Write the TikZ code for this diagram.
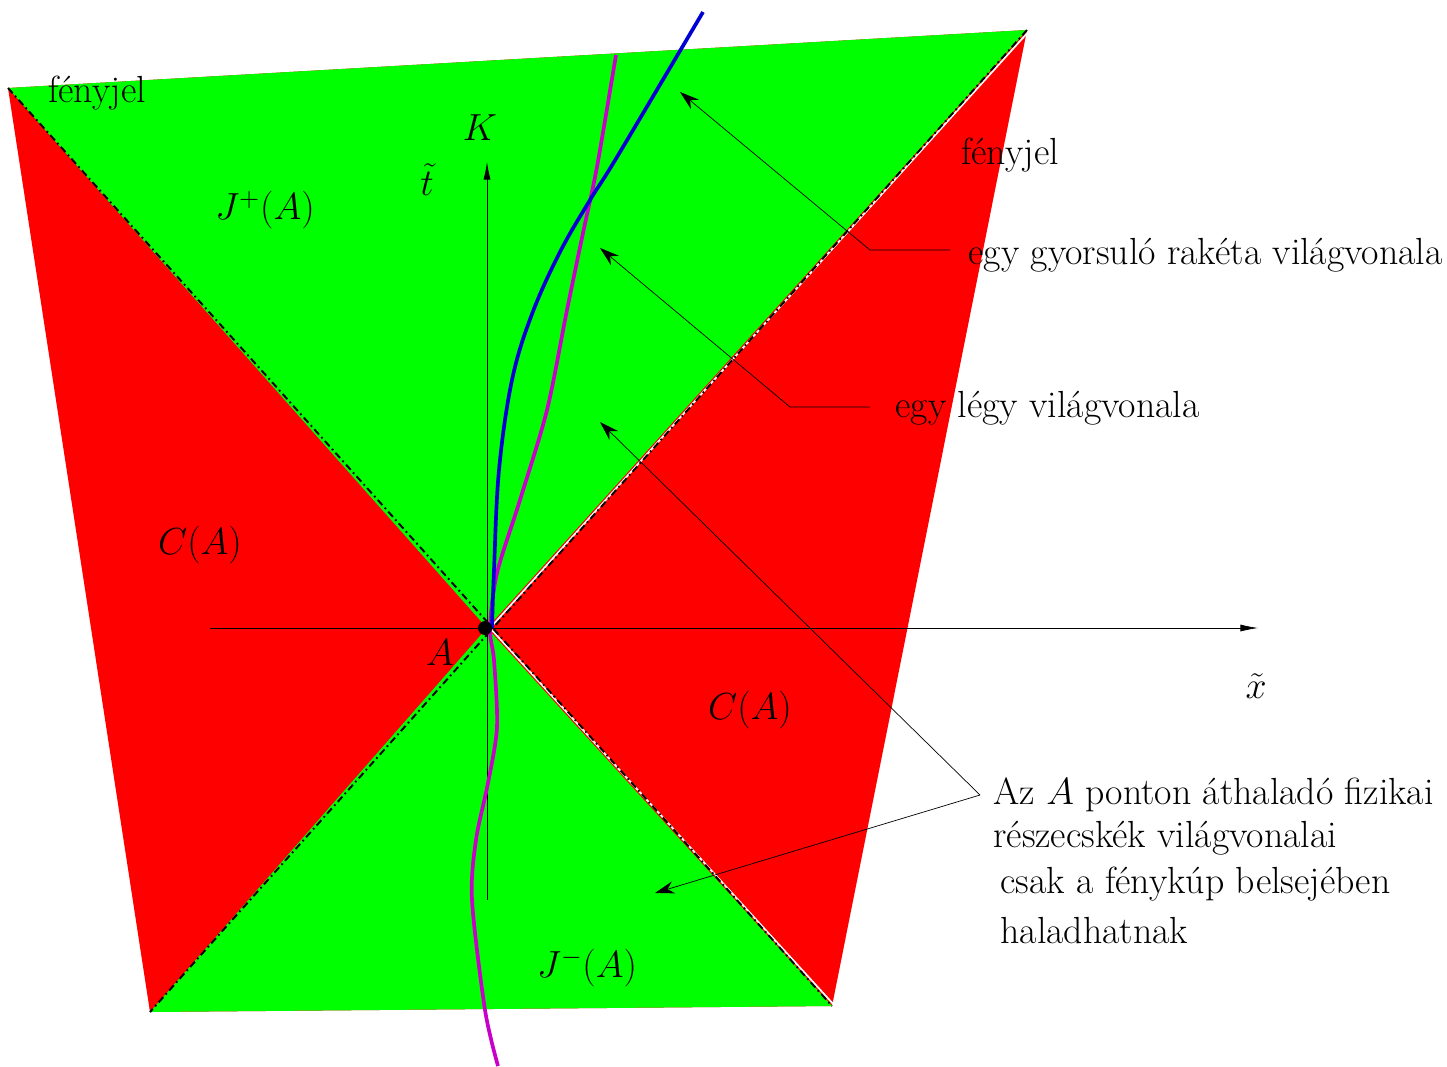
\RequirePackage{fix-cm}
\documentclass[tikz,border=0pt]{standalone}
\usepackage{fontspec}
\usepackage{amsmath,amssymb}
\usepackage{tikz}
\usetikzlibrary{arrows.meta, positioning, calc}
\definecolor{kup-red}{RGB}{255,0,0}
\definecolor{kup-green}{RGB}{0,255,0}
\definecolor{raketa-blue}{RGB}{0,0,210}
\definecolor{legy-magenta}{RGB}{200,0,200}
\tikzset{
    felirat/.style={font=\fontsize{21.5}{26}\selectfont, inner sep=0pt},
    mutato/.style={thin, -{Stealth[length=11pt, width=7pt]}},
    tengely/.style={thin, -{Latex[length=10pt, width=4pt]}},
    fenyjel/.style={black, line width=1.1pt, dash pattern=on 4pt off 2pt on 1pt off 2pt},
    vilagvonal/.style={line width=2.1pt}
}

\begin{document}
\begin{tikzpicture}[x={(0.02cm,0)}, y={(0,-0.02cm)}]
    \useasboundingbox (0,0) rectangle (1447,1066);
    % cone corners
    \coordinate (A) at (487,628);
    \coordinate (bf) at (8,88);
    \coordinate (jf) at (1027,30);
    \coordinate (ja) at (832,1006);
    \coordinate (ba) at (150,1012);

    \fill[kup-red] (bf) -- (jf) -- (ja) -- (ba) -- cycle;
    \fill[kup-green] (bf) -- (jf) -- (A) -- cycle;
    \fill[kup-green] (ba) -- (ja) -- (A) -- cycle;

    % light signals
    \draw[white, line width=1pt] ($(A)+(3,0)$) -- ($(jf)+(3,0)$);
    \draw[white, line width=1pt] ($(A)+(3,0)$) -- ($(ja)+(3,0)$);
    \draw[fenyjel] (bf) -- (ja);
    \draw[fenyjel] (jf) -- (ba);

    % axes
    \coordinate (xbal) at (210,628);
    \coordinate (xveg) at (1258,628);
    \coordinate (tlent) at (487,900);
    \coordinate (tveg) at (487,162);
    \draw[tengely] (xbal) -- (xveg);
    \draw[tengely] (tlent) -- (tveg);

    % world lines
    \draw[legy-magenta, vilagvonal] plot[smooth, tension=0.5] coordinates {
        (498,1066) (485,1010) (472,900) (476,840) (488,783) (497,727)
        (494,660) (490,628) (497,573) (520,500) (547,410) (567,310)
        (583,233) (593,187) (600,150) (616,55)};
    \draw[raketa-blue, vilagvonal] plot[smooth, tension=0.6] coordinates {
        (492,628) (494,570) (499,470) (512,380) (532,314) (560,252)
        (590,200) (617,157) (703,12)};

    \fill (485,628) circle (7);

    % labels
    \node[felirat] (fenyjel-b) at (97,93) {fényjel};
    \node[felirat] (fenyjel-j) at (1010,155) {fényjel};
    \node[felirat] (K) at (480,128) {$K$};
    \node[felirat] (t) at (427,180) {$\tilde{t}$};
    \node[felirat] (x) at (1256,686) {$\tilde{x}$};
    \node[felirat] (Alab) at (440,653) {$A$};
    \node[felirat] (Jplus) at (265,210) {$J^{+}(A)$};
    \node[felirat] (Cbal) at (200,545) {$C(A)$};
    \node[felirat] (Cjobb) at (750,710) {$C(A)$};
    \node[felirat] (Jminus) at (587,968) {$J^{-}(A)$};

    \node[felirat, anchor=west] (raketa) at (968,255) {egy gyorsuló rakéta világvonala};
    \node[felirat, anchor=west] (legy) at (895,408) {egy légy világvonala};
    \node[felirat, anchor=west] (reszecske1) at (993,795) {Az $A$ ponton áthaladó fizikai};
    \node[felirat, anchor=west] (reszecske2) at (993,838) {részecskék világvonalai};
    \node[felirat, anchor=west] (reszecske3) at (1000,884) {csak a fénykúp belsejében};
    \node[felirat, anchor=west] (reszecske4) at (1000,931) {haladhatnak};

    % pointers
    \coordinate (raketa-hegy) at (680,92);
    \coordinate (legy-hegy) at (600,248);
    \coordinate (fent-hegy) at (600,422);
    \coordinate (lent-hegy) at (655,893);
    \coordinate (reszecske-tores) at (980,795);
    \draw[mutato] (raketa.west) ++(-18,-5) -- ++(-80,0) -- (raketa-hegy);
    \draw[mutato] (legy.west) ++(-25,-1) -- ++(-80,0) -- (legy-hegy);
    \draw[mutato] (reszecske-tores) -- (fent-hegy);
    \draw[mutato] (reszecske-tores) -- (lent-hegy);
\end{tikzpicture}
\end{document}
